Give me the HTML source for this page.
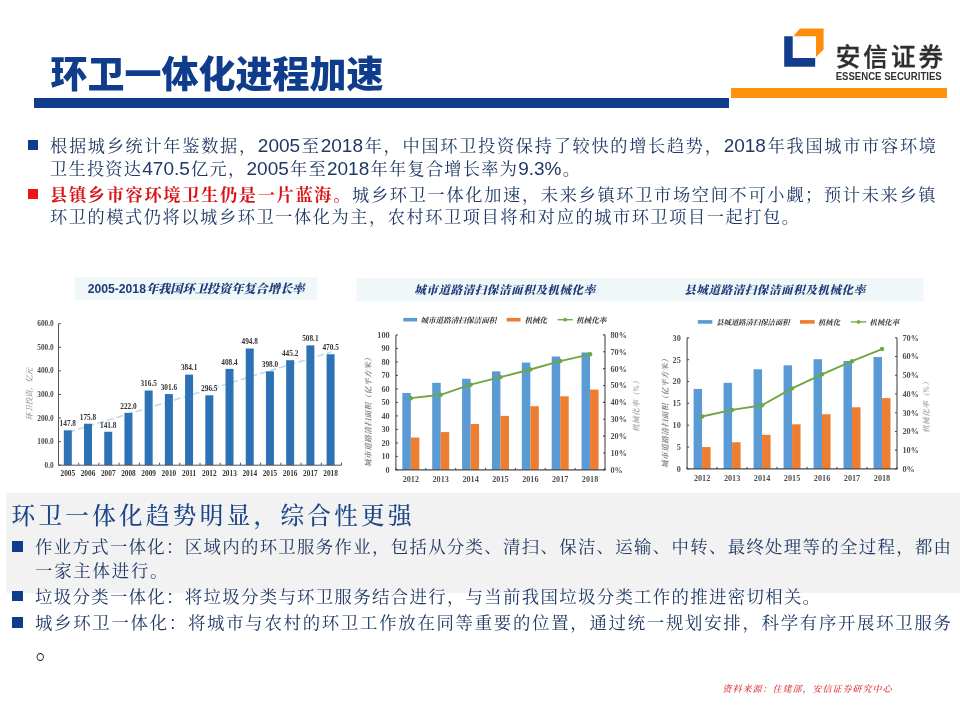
<!DOCTYPE html>
<html lang="zh-CN">
<head>
<meta charset="utf-8">
<title>环卫一体化进程加速</title>
<style>
html,body{margin:0;padding:0;background:#fff}
body{width:960px;height:720px;position:relative;overflow:hidden;font-family:"Liberation Sans","Noto Sans CJK SC",sans-serif;color:#1f3864}
.abs{position:absolute}
.title{left:50.5px;top:48.6px;font:900 37px/54px "Liberation Sans","Noto Sans CJK SC",sans-serif;color:#0f3d8c;white-space:nowrap;letter-spacing:0px}
.bar-blue{left:34px;top:98px;width:695px;height:10px;background:#0f3d8c}
.bar-orange{left:731px;top:88px;width:216px;height:10px;background:#ff920c}
.txt{font-family:"Liberation Sans","Noto Serif CJK SC",serif;font-size:17.2px;line-height:22px;color:#1f3864;white-space:nowrap}
.b2{font-size:17.4px}
.n{font-size:19px}
.j{text-align:justify;text-align-last:justify}
.red{color:#d81318;font-weight:bold}
.bul{width:10.5px;height:10.5px;background:#0f3d8c}
.bul.r{background:#ec1414}
.grey{left:6px;top:493px;width:954px;height:100px;background:#f2f2f2}
.h2{left:11.5px;top:500px;font-family:"Liberation Sans","Noto Serif CJK SC",serif;font-size:23.6px;font-weight:500;line-height:32px;color:#1d4689;white-space:nowrap;letter-spacing:3.3px}
.src{left:722.5px;top:682.6px;font-family:"Liberation Serif","Noto Serif CJK SC",serif;font-style:italic;font-weight:500;font-size:9px;line-height:13px;color:#dc2a30;white-space:nowrap;letter-spacing:1px}
svg{position:absolute;left:0;top:0;overflow:visible}
svg text{font-family:"Liberation Serif","Noto Serif CJK SC",serif}
</style>
</head>
<body>
<div class="abs title">环卫一体化进程加速</div>
<div class="abs bar-blue"></div>
<div class="abs bar-orange"></div>
<svg width="960" height="120" viewBox="0 0 960 120">
<polygon points="793.3,36.2 800,28.6 823.6,28.6 823.6,49.5 816,57 816,36.2" fill="#ff8c0a"/>
<path d="M784.2 36.2 H792.7 V58.1 H815.2 V66.7 H784.2 Z" fill="#123c8c"/>
<text x="835.7" y="65.6" font-size="24.6" font-weight="500" fill="#2e2e2e" stroke="#2e2e2e" stroke-width="0.35" letter-spacing="3.05" style="font-family:'Liberation Sans','Noto Sans CJK SC',sans-serif">安信证券</text>
<text x="835.7" y="79.6" font-size="10.1" font-weight="bold" fill="#333" style="font-family:'Liberation Sans',sans-serif" textLength="106" lengthAdjust="spacingAndGlyphs">ESSENCE SECURITIES</text>
</svg>
<div class="abs bul" style="left:27.5px;top:139.8px"></div>
<div class="abs txt j" style="left:50px;top:135px;width:886px;">根据城乡统计年鉴数据，<span class="n">2005</span>至<span class="n">2018</span>年，中国环卫投资保持了较快的增长趋势，<span class="n">2018</span>年我国城市市容环境</div>
<div class="abs txt j" style="left:50px;top:157.5px;width:530px;">卫生投资达<span class="n">470.5</span>亿元，<span class="n">2005</span>年至<span class="n">2018</span>年年复合增长率为<span class="n">9.3%</span>。</div>
<div class="abs bul r" style="left:27.5px;top:188.8px"></div>
<div class="abs txt j" style="left:50px;top:184px;width:885.5px;"><span class="red">县镇乡市容环境卫生仍是一片蓝海。</span>城乡环卫一体化加速，未来乡镇环卫市场空间不可小觑；预计未来乡镇</div>
<div class="abs txt j" style="left:50px;top:206px;width:749px;">环卫的模式仍将以城乡环卫一体化为主，农村环卫项目将和对应的城市环卫项目一起打包。</div>
<svg width="960" height="720" viewBox="0 0 960 720">
<rect x="75" y="277" width="242" height="23" fill="#eff7f8"/>
<text x="196" y="293" text-anchor="middle" font-size="12.2" font-weight="bold" fill="#1d3a7c"><tspan style="font-family:'Liberation Sans',sans-serif">2005-2018</tspan><tspan font-style="italic" font-weight="900">年我国环卫投资年复合增长率</tspan></text>
<line x1="68.61" y1="432.18" x2="331.39" y2="352" stroke="#c3dbee" stroke-width="1.7" stroke-dasharray="7,3"/>
<rect x="63.81" y="430.34" width="8" height="34.86" fill="#2c72b4"/>
<text x="67.81" y="426.14" text-anchor="middle" font-size="7.3" font-weight="bold" fill="#333">147.8</text>
<text x="67.81" y="475.7" text-anchor="middle" font-size="7.3" font-weight="bold" fill="#333">2005</text>
<rect x="84.02" y="423.74" width="8" height="41.46" fill="#2c72b4"/>
<text x="88.02" y="419.54" text-anchor="middle" font-size="7.3" font-weight="bold" fill="#333">175.8</text>
<text x="88.02" y="475.7" text-anchor="middle" font-size="7.3" font-weight="bold" fill="#333">2006</text>
<rect x="104.24" y="431.76" width="8" height="33.44" fill="#2c72b4"/>
<text x="108.24" y="427.56" text-anchor="middle" font-size="7.3" font-weight="bold" fill="#333">141.8</text>
<text x="108.24" y="475.7" text-anchor="middle" font-size="7.3" font-weight="bold" fill="#333">2007</text>
<rect x="124.45" y="412.84" width="8" height="52.36" fill="#2c72b4"/>
<text x="128.45" y="408.64" text-anchor="middle" font-size="7.3" font-weight="bold" fill="#333">222.0</text>
<text x="128.45" y="475.7" text-anchor="middle" font-size="7.3" font-weight="bold" fill="#333">2008</text>
<rect x="144.66" y="390.56" width="8" height="74.64" fill="#2c72b4"/>
<text x="148.66" y="386.36" text-anchor="middle" font-size="7.3" font-weight="bold" fill="#333">316.5</text>
<text x="148.66" y="475.7" text-anchor="middle" font-size="7.3" font-weight="bold" fill="#333">2009</text>
<rect x="164.88" y="394.07" width="8" height="71.13" fill="#2c72b4"/>
<text x="168.88" y="389.87" text-anchor="middle" font-size="7.3" font-weight="bold" fill="#333">301.6</text>
<text x="168.88" y="475.7" text-anchor="middle" font-size="7.3" font-weight="bold" fill="#333">2010</text>
<rect x="185.09" y="374.62" width="8" height="90.58" fill="#2c72b4"/>
<text x="189.09" y="370.42" text-anchor="middle" font-size="7.3" font-weight="bold" fill="#333">384.1</text>
<text x="189.09" y="475.7" text-anchor="middle" font-size="7.3" font-weight="bold" fill="#333">2011</text>
<rect x="205.31" y="395.28" width="8" height="69.92" fill="#2c72b4"/>
<text x="209.31" y="391.08" text-anchor="middle" font-size="7.3" font-weight="bold" fill="#333">296.5</text>
<text x="209.31" y="475.7" text-anchor="middle" font-size="7.3" font-weight="bold" fill="#333">2012</text>
<rect x="225.52" y="368.89" width="8" height="96.31" fill="#2c72b4"/>
<text x="229.52" y="364.69" text-anchor="middle" font-size="7.3" font-weight="bold" fill="#333">408.4</text>
<text x="229.52" y="475.7" text-anchor="middle" font-size="7.3" font-weight="bold" fill="#333">2013</text>
<rect x="245.74" y="348.51" width="8" height="116.69" fill="#2c72b4"/>
<text x="249.74" y="344.31" text-anchor="middle" font-size="7.3" font-weight="bold" fill="#333">494.8</text>
<text x="249.74" y="475.7" text-anchor="middle" font-size="7.3" font-weight="bold" fill="#333">2014</text>
<rect x="265.95" y="371.34" width="8" height="93.86" fill="#2c72b4"/>
<text x="269.95" y="367.14" text-anchor="middle" font-size="7.3" font-weight="bold" fill="#333">398.0</text>
<text x="269.95" y="475.7" text-anchor="middle" font-size="7.3" font-weight="bold" fill="#333">2015</text>
<rect x="286.16" y="360.21" width="8" height="104.99" fill="#2c72b4"/>
<text x="290.16" y="356.01" text-anchor="middle" font-size="7.3" font-weight="bold" fill="#333">445.2</text>
<text x="290.16" y="475.7" text-anchor="middle" font-size="7.3" font-weight="bold" fill="#333">2016</text>
<rect x="306.38" y="345.37" width="8" height="119.83" fill="#2c72b4"/>
<text x="310.38" y="341.17" text-anchor="middle" font-size="7.3" font-weight="bold" fill="#333">508.1</text>
<text x="310.38" y="475.7" text-anchor="middle" font-size="7.3" font-weight="bold" fill="#333">2017</text>
<rect x="326.59" y="354.24" width="8" height="110.96" fill="#2c72b4"/>
<text x="330.59" y="350.04" text-anchor="middle" font-size="7.3" font-weight="bold" fill="#333">470.5</text>
<text x="330.59" y="475.7" text-anchor="middle" font-size="7.3" font-weight="bold" fill="#333">2018</text>
<path d="M58.5 323.7 V465.2 H341.5" fill="none" stroke="#555" stroke-width="1"/>
<line x1="58.5" y1="465.2" x2="61" y2="465.2" stroke="#555" stroke-width="1"/>
<text x="53.7" y="467.8" text-anchor="end" font-size="7.3" font-weight="bold" fill="#4a4a4a">0.0</text>
<line x1="58.5" y1="441.62" x2="61" y2="441.62" stroke="#555" stroke-width="1"/>
<text x="53.7" y="444.22" text-anchor="end" font-size="7.3" font-weight="bold" fill="#4a4a4a">100.0</text>
<line x1="58.5" y1="418.03" x2="61" y2="418.03" stroke="#555" stroke-width="1"/>
<text x="53.7" y="420.63" text-anchor="end" font-size="7.3" font-weight="bold" fill="#4a4a4a">200.0</text>
<line x1="58.5" y1="394.45" x2="61" y2="394.45" stroke="#555" stroke-width="1"/>
<text x="53.7" y="397.05" text-anchor="end" font-size="7.3" font-weight="bold" fill="#4a4a4a">300.0</text>
<line x1="58.5" y1="370.87" x2="61" y2="370.87" stroke="#555" stroke-width="1"/>
<text x="53.7" y="373.47" text-anchor="end" font-size="7.3" font-weight="bold" fill="#4a4a4a">400.0</text>
<line x1="58.5" y1="347.28" x2="61" y2="347.28" stroke="#555" stroke-width="1"/>
<text x="53.7" y="349.88" text-anchor="end" font-size="7.3" font-weight="bold" fill="#4a4a4a">500.0</text>
<line x1="58.5" y1="323.7" x2="61" y2="323.7" stroke="#555" stroke-width="1"/>
<text x="53.7" y="326.3" text-anchor="end" font-size="7.3" font-weight="bold" fill="#4a4a4a">600.0</text>
<line x1="58.5" y1="465.2" x2="58.5" y2="462.7" stroke="#555" stroke-width="1"/>
<line x1="78.71" y1="465.2" x2="78.71" y2="462.7" stroke="#555" stroke-width="1"/>
<line x1="98.93" y1="465.2" x2="98.93" y2="462.7" stroke="#555" stroke-width="1"/>
<line x1="119.14" y1="465.2" x2="119.14" y2="462.7" stroke="#555" stroke-width="1"/>
<line x1="139.36" y1="465.2" x2="139.36" y2="462.7" stroke="#555" stroke-width="1"/>
<line x1="159.57" y1="465.2" x2="159.57" y2="462.7" stroke="#555" stroke-width="1"/>
<line x1="179.79" y1="465.2" x2="179.79" y2="462.7" stroke="#555" stroke-width="1"/>
<line x1="200" y1="465.2" x2="200" y2="462.7" stroke="#555" stroke-width="1"/>
<line x1="220.21" y1="465.2" x2="220.21" y2="462.7" stroke="#555" stroke-width="1"/>
<line x1="240.43" y1="465.2" x2="240.43" y2="462.7" stroke="#555" stroke-width="1"/>
<line x1="260.64" y1="465.2" x2="260.64" y2="462.7" stroke="#555" stroke-width="1"/>
<line x1="280.86" y1="465.2" x2="280.86" y2="462.7" stroke="#555" stroke-width="1"/>
<line x1="301.07" y1="465.2" x2="301.07" y2="462.7" stroke="#555" stroke-width="1"/>
<line x1="321.29" y1="465.2" x2="321.29" y2="462.7" stroke="#555" stroke-width="1"/>
<line x1="341.5" y1="465.2" x2="341.5" y2="462.7" stroke="#555" stroke-width="1"/>
<text transform="translate(31.5,394) rotate(-90)" text-anchor="middle" font-size="7.5" font-style="italic" fill="#777">环卫投资，亿元</text>
<rect x="356.5" y="278" width="297" height="23.5" fill="#eff7f8"/>
<text x="505" y="294" text-anchor="middle" font-size="11.5" font-weight="900" font-style="italic" fill="#1d3a7c" letter-spacing="0.6">城市道路清扫保洁面积及机械化率</text>
<rect x="403.3" y="317.9" width="13.9" height="3.6" fill="#5b9bd5"/>
<text x="420.4" y="322.5" font-size="7.6" font-weight="bold" font-style="italic" fill="#333">城市道路清扫保洁面积</text>
<rect x="506.6" y="317.9" width="13.9" height="3.6" fill="#ed7d31"/>
<text x="524.4" y="322.5" font-size="7.6" font-weight="bold" font-style="italic" fill="#333">机械化</text>
<line x1="557.6" y1="319.7" x2="572.8" y2="319.7" stroke="#70ad47" stroke-width="1.4"/>
<circle cx="565.2" cy="319.7" r="1.9" fill="#70ad47"/>
<text x="576" y="322.5" font-size="7.6" font-weight="bold" font-style="italic" fill="#333">机械化率</text>
<rect x="402.34" y="392.95" width="8.5" height="76.95" fill="#5b9bd5"/>
<rect x="410.84" y="437.5" width="8.5" height="32.4" fill="#ed7d31"/>
<text x="410.84" y="482.1" text-anchor="middle" font-size="8.2" font-weight="bold" fill="#505050">2012</text>
<rect x="432.21" y="382.82" width="8.5" height="87.07" fill="#5b9bd5"/>
<rect x="440.71" y="432.1" width="8.5" height="37.8" fill="#ed7d31"/>
<text x="440.71" y="482.1" text-anchor="middle" font-size="8.2" font-weight="bold" fill="#505050">2013</text>
<rect x="462.08" y="378.77" width="8.5" height="91.12" fill="#5b9bd5"/>
<rect x="470.58" y="424" width="8.5" height="45.9" fill="#ed7d31"/>
<text x="470.58" y="482.1" text-anchor="middle" font-size="8.2" font-weight="bold" fill="#505050">2014</text>
<rect x="491.95" y="371.35" width="8.5" height="98.55" fill="#5b9bd5"/>
<rect x="500.45" y="415.9" width="8.5" height="54" fill="#ed7d31"/>
<text x="500.45" y="482.1" text-anchor="middle" font-size="8.2" font-weight="bold" fill="#505050">2015</text>
<rect x="521.82" y="362.57" width="8.5" height="107.32" fill="#5b9bd5"/>
<rect x="530.32" y="406.18" width="8.5" height="63.72" fill="#ed7d31"/>
<text x="530.32" y="482.1" text-anchor="middle" font-size="8.2" font-weight="bold" fill="#505050">2016</text>
<rect x="551.69" y="356.5" width="8.5" height="113.4" fill="#5b9bd5"/>
<rect x="560.19" y="396.32" width="8.5" height="73.57" fill="#ed7d31"/>
<text x="560.19" y="482.1" text-anchor="middle" font-size="8.2" font-weight="bold" fill="#505050">2017</text>
<rect x="581.56" y="352.45" width="8.5" height="117.45" fill="#5b9bd5"/>
<rect x="590.06" y="389.57" width="8.5" height="80.32" fill="#ed7d31"/>
<text x="590.06" y="482.1" text-anchor="middle" font-size="8.2" font-weight="bold" fill="#505050">2018</text>
<polyline points="410.84,398.18 440.71,394.81 470.58,384.68 500.45,377.09 530.32,369.49 560.19,361.06 590.06,354.31" fill="none" stroke="#6ea644" stroke-width="1.9" stroke-linejoin="round"/>
<circle cx="410.84" cy="398.18" r="2.2" fill="#6ea644"/>
<circle cx="440.71" cy="394.81" r="2.2" fill="#6ea644"/>
<circle cx="470.58" cy="384.68" r="2.2" fill="#6ea644"/>
<circle cx="500.45" cy="377.09" r="2.2" fill="#6ea644"/>
<circle cx="530.32" cy="369.49" r="2.2" fill="#6ea644"/>
<circle cx="560.19" cy="361.06" r="2.2" fill="#6ea644"/>
<circle cx="590.06" cy="354.31" r="2.2" fill="#6ea644"/>
<path d="M395.9 334.9 V469.9 H605 V334.9" fill="none" stroke="#4a4a4a" stroke-width="1.1"/>
<line x1="395.9" y1="469.9" x2="397.9" y2="469.9" stroke="#4a4a4a" stroke-width="1.1"/>
<text x="389.6" y="472.8" text-anchor="end" font-size="8.2" font-weight="bold" fill="#505050">0</text>
<line x1="395.9" y1="456.4" x2="397.9" y2="456.4" stroke="#4a4a4a" stroke-width="1.1"/>
<text x="389.6" y="459.3" text-anchor="end" font-size="8.2" font-weight="bold" fill="#505050">10</text>
<line x1="395.9" y1="442.9" x2="397.9" y2="442.9" stroke="#4a4a4a" stroke-width="1.1"/>
<text x="389.6" y="445.8" text-anchor="end" font-size="8.2" font-weight="bold" fill="#505050">20</text>
<line x1="395.9" y1="429.4" x2="397.9" y2="429.4" stroke="#4a4a4a" stroke-width="1.1"/>
<text x="389.6" y="432.3" text-anchor="end" font-size="8.2" font-weight="bold" fill="#505050">30</text>
<line x1="395.9" y1="415.9" x2="397.9" y2="415.9" stroke="#4a4a4a" stroke-width="1.1"/>
<text x="389.6" y="418.8" text-anchor="end" font-size="8.2" font-weight="bold" fill="#505050">40</text>
<line x1="395.9" y1="402.4" x2="397.9" y2="402.4" stroke="#4a4a4a" stroke-width="1.1"/>
<text x="389.6" y="405.3" text-anchor="end" font-size="8.2" font-weight="bold" fill="#505050">50</text>
<line x1="395.9" y1="388.9" x2="397.9" y2="388.9" stroke="#4a4a4a" stroke-width="1.1"/>
<text x="389.6" y="391.8" text-anchor="end" font-size="8.2" font-weight="bold" fill="#505050">60</text>
<line x1="395.9" y1="375.4" x2="397.9" y2="375.4" stroke="#4a4a4a" stroke-width="1.1"/>
<text x="389.6" y="378.3" text-anchor="end" font-size="8.2" font-weight="bold" fill="#505050">70</text>
<line x1="395.9" y1="361.9" x2="397.9" y2="361.9" stroke="#4a4a4a" stroke-width="1.1"/>
<text x="389.6" y="364.8" text-anchor="end" font-size="8.2" font-weight="bold" fill="#505050">80</text>
<line x1="395.9" y1="348.4" x2="397.9" y2="348.4" stroke="#4a4a4a" stroke-width="1.1"/>
<text x="389.6" y="351.3" text-anchor="end" font-size="8.2" font-weight="bold" fill="#505050">90</text>
<line x1="395.9" y1="334.9" x2="397.9" y2="334.9" stroke="#4a4a4a" stroke-width="1.1"/>
<text x="389.6" y="337.8" text-anchor="end" font-size="8.2" font-weight="bold" fill="#505050">100</text>
<line x1="603" y1="469.9" x2="605" y2="469.9" stroke="#4a4a4a" stroke-width="1.1"/>
<text x="610.5" y="472.8" font-size="8.2" font-weight="bold" fill="#505050">0%</text>
<line x1="603" y1="453.02" x2="605" y2="453.02" stroke="#4a4a4a" stroke-width="1.1"/>
<text x="610.5" y="455.92" font-size="8.2" font-weight="bold" fill="#505050">10%</text>
<line x1="603" y1="436.15" x2="605" y2="436.15" stroke="#4a4a4a" stroke-width="1.1"/>
<text x="610.5" y="439.05" font-size="8.2" font-weight="bold" fill="#505050">20%</text>
<line x1="603" y1="419.27" x2="605" y2="419.27" stroke="#4a4a4a" stroke-width="1.1"/>
<text x="610.5" y="422.17" font-size="8.2" font-weight="bold" fill="#505050">30%</text>
<line x1="603" y1="402.4" x2="605" y2="402.4" stroke="#4a4a4a" stroke-width="1.1"/>
<text x="610.5" y="405.3" font-size="8.2" font-weight="bold" fill="#505050">40%</text>
<line x1="603" y1="385.52" x2="605" y2="385.52" stroke="#4a4a4a" stroke-width="1.1"/>
<text x="610.5" y="388.42" font-size="8.2" font-weight="bold" fill="#505050">50%</text>
<line x1="603" y1="368.65" x2="605" y2="368.65" stroke="#4a4a4a" stroke-width="1.1"/>
<text x="610.5" y="371.55" font-size="8.2" font-weight="bold" fill="#505050">60%</text>
<line x1="603" y1="351.77" x2="605" y2="351.77" stroke="#4a4a4a" stroke-width="1.1"/>
<text x="610.5" y="354.67" font-size="8.2" font-weight="bold" fill="#505050">70%</text>
<line x1="603" y1="334.9" x2="605" y2="334.9" stroke="#4a4a4a" stroke-width="1.1"/>
<text x="610.5" y="337.8" font-size="8.2" font-weight="bold" fill="#505050">80%</text>
<line x1="395.9" y1="467.9" x2="395.9" y2="469.9" stroke="#4a4a4a" stroke-width="1.1"/>
<line x1="425.77" y1="467.9" x2="425.77" y2="469.9" stroke="#4a4a4a" stroke-width="1.1"/>
<line x1="455.64" y1="467.9" x2="455.64" y2="469.9" stroke="#4a4a4a" stroke-width="1.1"/>
<line x1="485.51" y1="467.9" x2="485.51" y2="469.9" stroke="#4a4a4a" stroke-width="1.1"/>
<line x1="515.39" y1="467.9" x2="515.39" y2="469.9" stroke="#4a4a4a" stroke-width="1.1"/>
<line x1="545.26" y1="467.9" x2="545.26" y2="469.9" stroke="#4a4a4a" stroke-width="1.1"/>
<line x1="575.13" y1="467.9" x2="575.13" y2="469.9" stroke="#4a4a4a" stroke-width="1.1"/>
<line x1="605" y1="467.9" x2="605" y2="469.9" stroke="#4a4a4a" stroke-width="1.1"/>
<text transform="translate(371,410.4) rotate(-90)" text-anchor="middle" font-size="7.6" font-style="italic" font-weight="bold" fill="#7d7d7d" letter-spacing="0.5">城市道路清扫面积（亿平方米）</text>
<text transform="translate(639,404.4) rotate(-90)" text-anchor="middle" font-size="7.6" font-style="italic" font-weight="bold" fill="#aaa" letter-spacing="0.5">机械化率（%）</text>
<rect x="653.5" y="278" width="270" height="23.5" fill="#eff7f8"/>
<text x="775" y="294" text-anchor="middle" font-size="11.5" font-weight="900" font-style="italic" fill="#1d3a7c" letter-spacing="0.6">县城道路清扫保洁面积及机械化率</text>
<rect x="697.8" y="320.1" width="14.5" height="3.6" fill="#5b9bd5"/>
<text x="716.2" y="324.7" font-size="7.35" font-weight="bold" font-style="italic" fill="#333">县城道路清扫保洁面积</text>
<rect x="800" y="320.1" width="14.7" height="3.6" fill="#ed7d31"/>
<text x="818" y="324.7" font-size="7.35" font-weight="bold" font-style="italic" fill="#333">机械化</text>
<line x1="850.8" y1="321.9" x2="866.3" y2="321.9" stroke="#70ad47" stroke-width="1.4"/>
<circle cx="858.55" cy="321.9" r="1.9" fill="#70ad47"/>
<text x="869.6" y="324.7" font-size="7.35" font-weight="bold" font-style="italic" fill="#333">机械化率</text>
<rect x="693.59" y="388.93" width="8.5" height="79.97" fill="#5b9bd5"/>
<rect x="702.09" y="447.05" width="8.5" height="21.85" fill="#ed7d31"/>
<text x="702.09" y="481.1" text-anchor="middle" font-size="8.2" font-weight="bold" fill="#505050">2012</text>
<rect x="723.58" y="382.81" width="8.5" height="86.09" fill="#5b9bd5"/>
<rect x="732.08" y="442.24" width="8.5" height="26.66" fill="#ed7d31"/>
<text x="732.08" y="481.1" text-anchor="middle" font-size="8.2" font-weight="bold" fill="#505050">2013</text>
<rect x="753.56" y="369.26" width="8.5" height="99.64" fill="#5b9bd5"/>
<rect x="762.06" y="434.81" width="8.5" height="34.09" fill="#ed7d31"/>
<text x="762.06" y="481.1" text-anchor="middle" font-size="8.2" font-weight="bold" fill="#505050">2014</text>
<rect x="783.55" y="365.33" width="8.5" height="103.57" fill="#5b9bd5"/>
<rect x="792.05" y="424.33" width="8.5" height="44.57" fill="#ed7d31"/>
<text x="792.05" y="481.1" text-anchor="middle" font-size="8.2" font-weight="bold" fill="#505050">2015</text>
<rect x="813.54" y="359.21" width="8.5" height="109.69" fill="#5b9bd5"/>
<rect x="822.04" y="414.27" width="8.5" height="54.62" fill="#ed7d31"/>
<text x="822.04" y="481.1" text-anchor="middle" font-size="8.2" font-weight="bold" fill="#505050">2016</text>
<rect x="843.52" y="360.96" width="8.5" height="107.94" fill="#5b9bd5"/>
<rect x="852.02" y="407.28" width="8.5" height="61.62" fill="#ed7d31"/>
<text x="852.02" y="481.1" text-anchor="middle" font-size="8.2" font-weight="bold" fill="#505050">2017</text>
<rect x="873.51" y="357.03" width="8.5" height="111.87" fill="#5b9bd5"/>
<rect x="882.01" y="398.11" width="8.5" height="70.79" fill="#ed7d31"/>
<text x="882.01" y="481.1" text-anchor="middle" font-size="8.2" font-weight="bold" fill="#505050">2018</text>
<polyline points="702.09,416.46 732.08,409.9 762.06,405.22 792.05,388.37 822.04,374.32 852.02,361.21 882.01,349.04" fill="none" stroke="#6ea644" stroke-width="1.9" stroke-linejoin="round"/>
<circle cx="702.09" cy="416.46" r="2.2" fill="#6ea644"/>
<circle cx="732.08" cy="409.9" r="2.2" fill="#6ea644"/>
<circle cx="762.06" cy="405.22" r="2.2" fill="#6ea644"/>
<circle cx="792.05" cy="388.37" r="2.2" fill="#6ea644"/>
<circle cx="822.04" cy="374.32" r="2.2" fill="#6ea644"/>
<circle cx="852.02" cy="361.21" r="2.2" fill="#6ea644"/>
<circle cx="882.01" cy="349.04" r="2.2" fill="#6ea644"/>
<path d="M687.1 337.8 V468.9 H897 V337.8" fill="none" stroke="#4a4a4a" stroke-width="1.1"/>
<line x1="687.1" y1="468.9" x2="689.1" y2="468.9" stroke="#4a4a4a" stroke-width="1.1"/>
<text x="680.8" y="471.8" text-anchor="end" font-size="8.2" font-weight="bold" fill="#505050">0</text>
<line x1="687.1" y1="447.05" x2="689.1" y2="447.05" stroke="#4a4a4a" stroke-width="1.1"/>
<text x="680.8" y="449.95" text-anchor="end" font-size="8.2" font-weight="bold" fill="#505050">5</text>
<line x1="687.1" y1="425.2" x2="689.1" y2="425.2" stroke="#4a4a4a" stroke-width="1.1"/>
<text x="680.8" y="428.1" text-anchor="end" font-size="8.2" font-weight="bold" fill="#505050">10</text>
<line x1="687.1" y1="403.35" x2="689.1" y2="403.35" stroke="#4a4a4a" stroke-width="1.1"/>
<text x="680.8" y="406.25" text-anchor="end" font-size="8.2" font-weight="bold" fill="#505050">15</text>
<line x1="687.1" y1="381.5" x2="689.1" y2="381.5" stroke="#4a4a4a" stroke-width="1.1"/>
<text x="680.8" y="384.4" text-anchor="end" font-size="8.2" font-weight="bold" fill="#505050">20</text>
<line x1="687.1" y1="359.65" x2="689.1" y2="359.65" stroke="#4a4a4a" stroke-width="1.1"/>
<text x="680.8" y="362.55" text-anchor="end" font-size="8.2" font-weight="bold" fill="#505050">25</text>
<line x1="687.1" y1="337.8" x2="689.1" y2="337.8" stroke="#4a4a4a" stroke-width="1.1"/>
<text x="680.8" y="340.7" text-anchor="end" font-size="8.2" font-weight="bold" fill="#505050">30</text>
<line x1="895" y1="468.9" x2="897" y2="468.9" stroke="#4a4a4a" stroke-width="1.1"/>
<text x="902.5" y="471.8" font-size="8.2" font-weight="bold" fill="#505050">0%</text>
<line x1="895" y1="450.17" x2="897" y2="450.17" stroke="#4a4a4a" stroke-width="1.1"/>
<text x="902.5" y="453.07" font-size="8.2" font-weight="bold" fill="#505050">10%</text>
<line x1="895" y1="431.44" x2="897" y2="431.44" stroke="#4a4a4a" stroke-width="1.1"/>
<text x="902.5" y="434.34" font-size="8.2" font-weight="bold" fill="#505050">20%</text>
<line x1="895" y1="412.71" x2="897" y2="412.71" stroke="#4a4a4a" stroke-width="1.1"/>
<text x="902.5" y="415.61" font-size="8.2" font-weight="bold" fill="#505050">30%</text>
<line x1="895" y1="393.99" x2="897" y2="393.99" stroke="#4a4a4a" stroke-width="1.1"/>
<text x="902.5" y="396.89" font-size="8.2" font-weight="bold" fill="#505050">40%</text>
<line x1="895" y1="375.26" x2="897" y2="375.26" stroke="#4a4a4a" stroke-width="1.1"/>
<text x="902.5" y="378.16" font-size="8.2" font-weight="bold" fill="#505050">50%</text>
<line x1="895" y1="356.53" x2="897" y2="356.53" stroke="#4a4a4a" stroke-width="1.1"/>
<text x="902.5" y="359.43" font-size="8.2" font-weight="bold" fill="#505050">60%</text>
<line x1="895" y1="337.8" x2="897" y2="337.8" stroke="#4a4a4a" stroke-width="1.1"/>
<text x="902.5" y="340.7" font-size="8.2" font-weight="bold" fill="#505050">70%</text>
<line x1="687.1" y1="466.9" x2="687.1" y2="468.9" stroke="#4a4a4a" stroke-width="1.1"/>
<line x1="717.09" y1="466.9" x2="717.09" y2="468.9" stroke="#4a4a4a" stroke-width="1.1"/>
<line x1="747.07" y1="466.9" x2="747.07" y2="468.9" stroke="#4a4a4a" stroke-width="1.1"/>
<line x1="777.06" y1="466.9" x2="777.06" y2="468.9" stroke="#4a4a4a" stroke-width="1.1"/>
<line x1="807.04" y1="466.9" x2="807.04" y2="468.9" stroke="#4a4a4a" stroke-width="1.1"/>
<line x1="837.03" y1="466.9" x2="837.03" y2="468.9" stroke="#4a4a4a" stroke-width="1.1"/>
<line x1="867.01" y1="466.9" x2="867.01" y2="468.9" stroke="#4a4a4a" stroke-width="1.1"/>
<line x1="897" y1="466.9" x2="897" y2="468.9" stroke="#4a4a4a" stroke-width="1.1"/>
<text transform="translate(668,411.35) rotate(-90)" text-anchor="middle" font-size="7.6" font-style="italic" font-weight="bold" fill="#7d7d7d" letter-spacing="0.5">城市道路清扫面积（亿平方米）</text>
<text transform="translate(929,405.35) rotate(-90)" text-anchor="middle" font-size="7.6" font-style="italic" font-weight="bold" fill="#aaa" letter-spacing="0.5">机械化率（%）</text>
</svg>
<div class="abs grey"></div>
<div class="abs h2">环卫一体化趋势明显，综合性更强</div>
<div class="abs bul" style="left:12px;top:541.3px"></div>
<div class="abs txt j b2" style="left:35px;top:535.5px;width:916px;">作业方式一体化：区域内的环卫服务作业，包括从分类、清扫、保洁、运输、中转、最终处理等的全过程，都由</div>
<div class="abs txt j b2" style="left:35px;top:559.5px;width:132.5px;">一家主体进行。</div>
<div class="abs bul" style="left:12px;top:590.6px"></div>
<div class="abs txt j b2" style="left:35px;top:585.5px;width:785px;">垃圾分类一体化：将垃圾分类与环卫服务结合进行，与当前我国垃圾分类工作的推进密切相关。</div>
<div class="abs bul" style="left:12px;top:617.2px"></div>
<div class="abs txt j b2" style="left:35px;top:612.3px;width:916px;">城乡环卫一体化：将城市与农村的环卫工作放在同等重要的位置，通过统一规划安排，科学有序开展环卫服务</div>
<div class="abs txt b2" style="left:35.6px;top:634.8px;font-size:26px;line-height:28px;color:#222">。</div>
<div class="abs src">资料来源：住建部，安信证券研究中心</div>
</body>
</html>
